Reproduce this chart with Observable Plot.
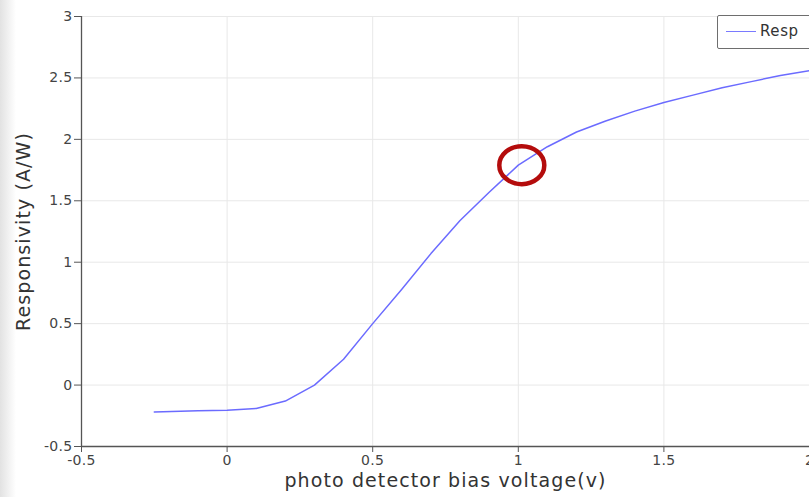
<!DOCTYPE html>
<html>
<head>
<meta charset="utf-8">
<script src="https://cdn.jsdelivr.net/npm/d3@7"></script>
<script src="https://cdn.jsdelivr.net/npm/@observablehq/plot@0.6"></script>
<style>
  html, body { margin: 0; padding: 0; background: #fff; }
  body { width: 809px; height: 497px; overflow: hidden; position: relative; font-family: "DejaVu Sans", sans-serif; }
  #chart svg { max-width: none !important; display: block; }
  #chart svg g[aria-label="text"] text { letter-spacing: 1.1px; }
  #chart svg g[aria-label$="tick label"] text { letter-spacing: 0.3px; }
  #shade { position: absolute; left: 0; top: 0; width: 16px; height: 497px;
           background: linear-gradient(to right, #e2e2e2, rgba(255,255,255,0)); pointer-events: none; }
  #legend { position: absolute; left: 717px; top: 15px; width: 120px; height: 34px;
            border: 1.8px solid #6e6e6e; border-radius: 2px; background: #fff; box-sizing: border-box; }
  #legend .swatch { position: absolute; left: 8px; top: 15px; width: 30px; height: 0; border-top: 1.3px solid #7a7aff; }
  #legend .name { position: absolute; left: 42px; top: 6px; font-size: 15px; color: #333; letter-spacing: 0.6px; }
</style>
</head>
<body>
<div id="chart"></div>
<div id="shade"></div>
<div id="legend"><span class="swatch"></span><span class="name">Resp</span></div>
<script>
// Bias voltage (V) and measured responsivity (A/W)
const voltage = [-0.25, -0.1, 0, 0.1, 0.2, 0.3, 0.4, 0.5, 0.6, 0.7, 0.8, 0.9, 1.0, 1.1, 1.2, 1.3, 1.4, 1.5, 1.6, 1.7, 1.8, 1.9, 2.0, 2.1];
const responsivity = [-0.22, -0.21, -0.205, -0.19, -0.13, 0.0, 0.21, 0.5, 0.78, 1.07, 1.34, 1.57, 1.79, 1.94, 2.06, 2.15, 2.23, 2.3, 2.36, 2.42, 2.47, 2.52, 2.56, 2.6];

// Highlighted operating point
const markedVoltage = [1.012];
const markedResponsivity = [1.79];

const xTicks = [-0.5, 0, 0.5, 1, 1.5, 2];
const yTicks = [-0.5, 0, 0.5, 1, 1.5, 2, 2.5, 3];

const series = voltage.map((v, i) => ({v, r: responsivity[i]}));
const marked = markedVoltage.map((v, i) => ({v, r: markedResponsivity[i]}));

// Elliptical ring symbol for the highlight
const ring = {
  draw(ctx) {
    const rx = 22.5, ry = 19, k = 0.5523;
    ctx.moveTo(rx, 0);
    ctx.bezierCurveTo(rx, ry * k, rx * k, ry, 0, ry);
    ctx.bezierCurveTo(-rx * k, ry, -rx, ry * k, -rx, 0);
    ctx.bezierCurveTo(-rx, -ry * k, -rx * k, -ry, 0, -ry);
    ctx.bezierCurveTo(rx * k, -ry, rx, -ry * k, rx, 0);
    ctx.closePath();
  }
};

const fmt = d => String(d);

const chart = Plot.plot({
  width: 860,
  height: 497,
  marginLeft: 81,
  marginRight: 51,
  marginTop: 16,
  marginBottom: 51,
  x: {domain: [-0.5, 2]},
  y: {domain: [-0.5, 3]},
  style: {fontFamily: "DejaVu Sans", fontSize: "14px", color: "#444", background: "transparent"},
  marks: [
    Plot.gridX(xTicks, {stroke: "#e8e8e8", strokeOpacity: 1}),
    Plot.gridY(yTicks, {stroke: "#e8e8e8", strokeOpacity: 1}),
    Plot.axisX(xTicks, {tickFormat: fmt, tickSize: 6, tickPadding: 3, label: null, stroke: "#555"}),
    Plot.axisY(yTicks, {tickFormat: fmt, tickSize: 7, tickPadding: 2, label: null, stroke: "#555"}),
    Plot.ruleX([-0.5], {stroke: "#555", strokeWidth: 1.3}),
    Plot.ruleY([-0.5], {stroke: "#555", strokeWidth: 1.3}),
    Plot.line(series, {x: "v", y: "r", stroke: "#6b6bff", strokeWidth: 1.5, clip: true}),
    Plot.dot(marked, {x: "v", y: "r", symbol: ring, fill: "none", stroke: "#b40c0c", strokeWidth: 4.5}),
    Plot.text(["photo detector bias voltage(v)"], {frameAnchor: "bottom", dy: 40, fontSize: 19, fill: "#333"}),
    Plot.text(["Responsivity (A/W)"], {frameAnchor: "left", textAnchor: "middle", dx: -58, rotate: -90, fontSize: 19, fill: "#333"})
  ]
});

document.getElementById("chart").append(chart);
</script>
</body>
</html>
